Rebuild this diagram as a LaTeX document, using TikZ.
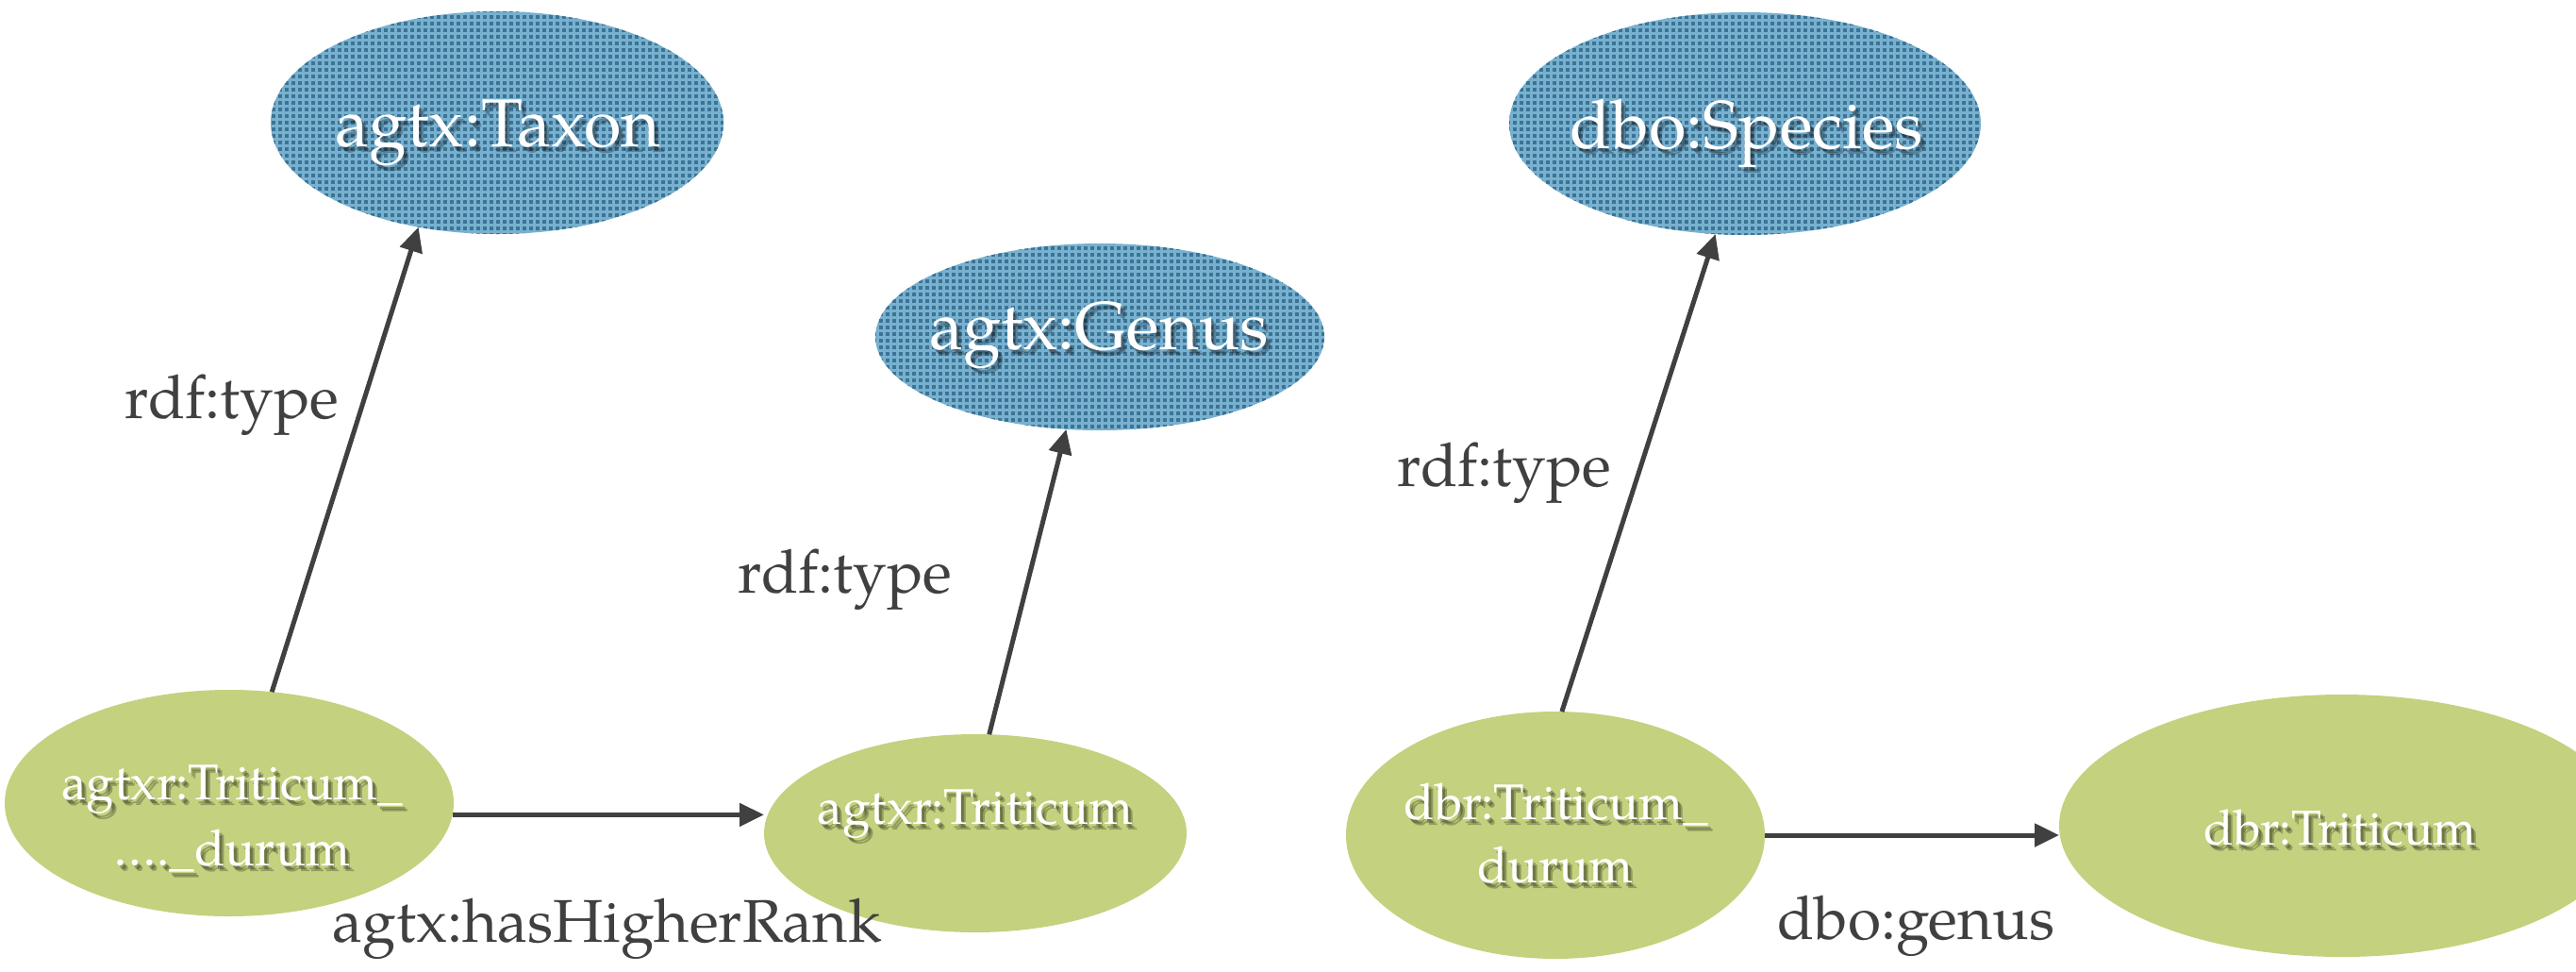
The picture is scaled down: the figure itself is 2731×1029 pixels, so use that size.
\documentclass[tikz,border=0pt]{standalone}
\usepackage{fontspec}
\setmainfont{TeX Gyre Pagella}
\usetikzlibrary{arrows.meta,shapes.geometric,patterns}
\definecolor{bluefill}{RGB}{120,176,207}
\definecolor{bluedot}{RGB}{60,116,150}
\definecolor{greenfill}{RGB}{196,209,126}
\definecolor{ink}{RGB}{64,64,64}
\pgfdeclarepatternformonly{bluegrid}{\pgfqpoint{0pt}{0pt}}{\pgfqpoint{1.75pt}{1.75pt}}{\pgfqpoint{1.75pt}{1.75pt}}{%
  \pgfpathrectangle{\pgfqpoint{0.35pt}{0.35pt}}{\pgfqpoint{1.05pt}{1.05pt}}\pgfusepath{fill}}
\newcommand\shadowtext[4]{% name, x,y, font, text
  \node[shtxt,font=#3] (#1s) at ([shift={(5,6)}]#2) {#4};
  \node[shtxt,font=#3] (#1t) at ([shift={(3,4)}]#2) {#4};
  \node[whtxt,font=#3] (#1) at (#2) {#4};}
\begin{document}
\begin{tikzpicture}[x=0.25pt,y=-0.25pt,
  blueell/.style={ellipse, fill=bluefill, postaction={pattern=bluegrid, pattern color=bluedot}, inner sep=0pt, outer sep=0pt},
  greenell/.style={ellipse, fill=greenfill, inner sep=0pt, outer sep=0pt},
  whtxt/.style={text=white, inner sep=0pt, anchor=base},
  shtxt/.style={text=black, text opacity=0.25, inner sep=0pt, anchor=base},
  lbl/.style={text=ink, inner sep=0pt, anchor=base west, font=\fontsize{16pt}{19pt}\selectfont},
  arr/.style={draw=ink, line width=1.25pt, -{Triangle[length=6.5pt,width=6pt]}},
]
\useasboundingbox (0,0) rectangle (2731,1029);
\clip (0,0) rectangle (2731,1029);

% ellipses
\node[blueell, minimum width=120pt, minimum height=59pt] (taxon) at (527,130) {};
\node[blueell, minimum width=119pt, minimum height=49.5pt] (genus) at (1166,357) {};
\node[blueell, minimum width=125pt, minimum height=59pt] (species) at (1850,131) {};
\node[greenell, minimum width=119pt, minimum height=60pt] (e1) at (243,851) {};
\node[greenell, minimum width=112pt, minimum height=52.5pt] (e2) at (1034,883) {};
\node[greenell, minimum width=111pt, minimum height=65.5pt] (e3) at (1649,885) {};
\node[greenell, minimum width=150pt, minimum height=69.5pt] (e4) at (2483,875) {};

% texts in ellipses
\shadowtext{ttaxon}{528,155}{\fontsize{18pt}{21pt}\selectfont}{agtx:Taxon}
\shadowtext{tgenus}{1165,370}{\fontsize{18pt}{21pt}\selectfont}{agtx:Genus}
\shadowtext{tspecies}{1852,157}{\fontsize{18pt}{21pt}\selectfont}{dbo:Species}
\shadowtext{tea}{246,847}{\fontsize{13.3pt}{16pt}\selectfont}{agtxr:Triticum\_}
\shadowtext{teb}{246,917}{\fontsize{13.3pt}{16pt}\selectfont}{\ldots.\_durum}
\shadowtext{tetwo}{1034,873}{\fontsize{13.3pt}{16pt}\selectfont}{agtxr:Triticum}
\shadowtext{tethreea}{1650,868}{\fontsize{13.3pt}{16pt}\selectfont}{dbr:Triticum\_}
\shadowtext{tethreeb}{1649,935}{\fontsize{13.3pt}{16pt}\selectfont}{durum}
\shadowtext{tefour}{2481,895}{\fontsize{13pt}{16pt}\selectfont}{dbr:Triticum}

% connectors
\draw[arr] (e1.69) -- (taxon.233);
\draw[arr] (e2.82) -- (genus.250);
\draw[arr] (e3.87) -- (species.255);
\draw[arr] (e1.-3) -- (e1.-3 -| e2.west);
\draw[arr] (e3.east) -- (e3.east -| e4.west);

% edge labels
\node[lbl] (l1) at (132,443) {rdf:type};
\node[lbl, anchor=base east] (l2) at (1010,628) {rdf:type};
\node[lbl] (l3) at (1481,515) {rdf:type};
\node[lbl] (l4) at (352,998) {agtx:hasHigherRank};
\node[lbl] (l5) at (1884,995) {dbo:genus};
\end{tikzpicture}
\end{document}
